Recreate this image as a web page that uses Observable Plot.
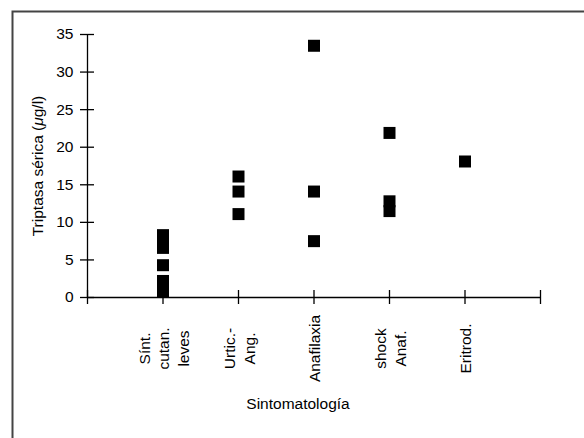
<!DOCTYPE html>
<html>
<head>
<meta charset="utf-8">
<script src="https://cdn.jsdelivr.net/npm/d3@7"></script>
<script src="https://cdn.jsdelivr.net/npm/@observablehq/plot@0.6"></script>
<style>
  html, body { margin: 0; padding: 0; background: #fff; overflow: hidden; }
</style>
</head>
<body>
<div id="chart"></div>
<script>
const categories = ["Sínt.\ncutan.\nleves", "Urtic.-\nAng.", "Anafilaxia", "shock\nAnaf.", "Eritrod."];
const sintCutan = [8.3, 7.5, 6.6, 4.3, 2.2, 0.8];
const urticAng = [16.1, 14.1, 11.1];
const anafilaxia = [33.5, 14.1, 7.5];
const shockAnaf = [21.9, 12.8, 11.5];
const eritrod = [18.1];
const yTicks = [0, 5, 10, 15, 20, 25, 30, 35];
const xTicks = [0, 1, 2, 3, 4, 5, 6];
const yLabel = "Triptasa sérica (μg/l)";
const xLabel = "Sintomatología";

const series = [sintCutan, urticAng, anafilaxia, shockAnaf, eritrod];
const points = series.flatMap((vals, i) => vals.map(v => ({pos: i + 1, value: v})));
const catData = categories.map((c, i) => ({pos: i + 1, label: c}));

const plot = Plot.plot({
  width: 584,
  height: 438,
  marginLeft: 87,
  marginRight: 44,
  marginTop: 34,
  marginBottom: 141,
  style: {fontFamily: "Arial, 'Liberation Sans', Helvetica, sans-serif", fontSize: "15px", background: "#fff", overflow: "visible"},
  x: {domain: [0, 6], axis: null},
  y: {domain: [0, 35], axis: null},
  marks: [
    Plot.frame({stroke: "#444", strokeWidth: 2, insetLeft: -75, insetTop: -23, insetRight: -100, insetBottom: -200}),
    Plot.ruleY([0], {stroke: "#000", strokeWidth: 1.3}),
    Plot.ruleX([0], {stroke: "#000", strokeWidth: 1.3}),
    Plot.axisY(yTicks, {tickSize: 14, dx: 7, tickPadding: 7, fontSize: 15.5, label: null, stroke: "#000", strokeWidth: 1.3, fill: "#000"}),
    Plot.axisX(xTicks, {tickSize: 14, dy: -7, tickFormat: () => "", label: null, stroke: "#000", strokeWidth: 1.3}),
    Plot.dot(points, {x: "pos", y: "value", symbol: "square", r: 6.77, fill: "#000", stroke: null}),
    Plot.text(catData, {x: "pos", y: () => 0, text: "label", rotate: -90, textAnchor: "middle", lineAnchor: "middle", lineHeight: 1.27, dy: 51, fontSize: 15.5, fill: "#000"}),
    Plot.text([yLabel], {frameAnchor: "left", dx: -49, rotate: -90, textAnchor: "middle", fontSize: 15.5, fill: "#000"}),
    Plot.text([xLabel], {frameAnchor: "bottom", dy: 111, dx: -16, textAnchor: "middle", fontSize: 15.5, fill: "#000"})
  ]
});

// italicize the micro sign in the y label
d3.select(plot).selectAll("text").each(function() {
  const t = d3.select(this);
  if (t.text() === yLabel) {
    const parts = yLabel.split("μ");
    t.text(null);
    t.append("tspan").text(parts[0]);
    t.append("tspan").attr("font-style", "italic").text("μ");
    t.append("tspan").text(parts[1]);
  }
});

document.getElementById("chart").appendChild(plot);
</script>
</body>
</html>
